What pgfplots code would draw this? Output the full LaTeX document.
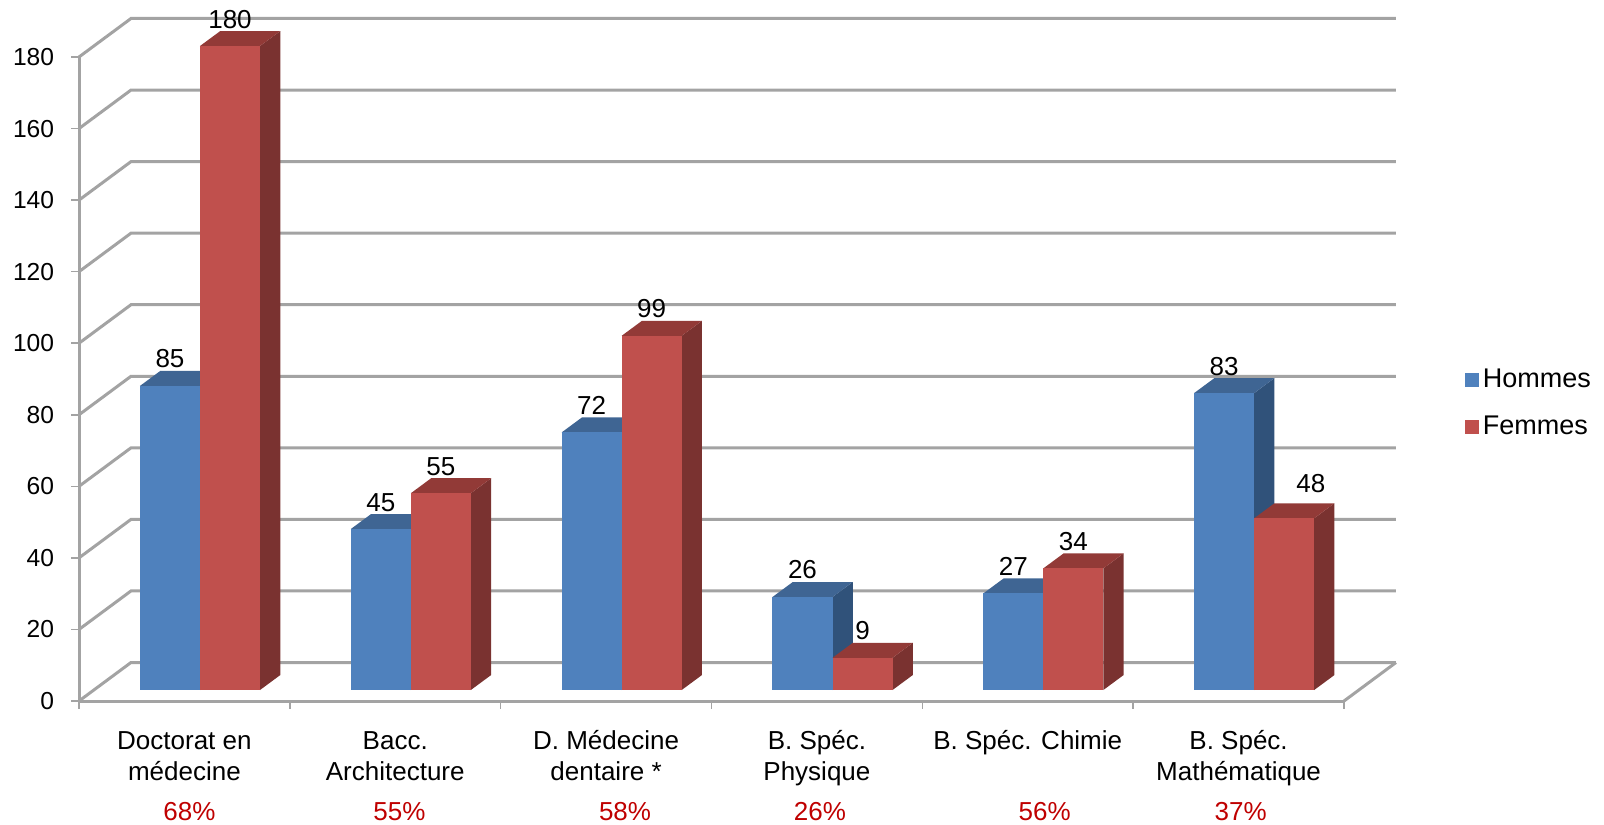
\documentclass[border=0pt]{standalone}
\usepackage{pgfplots}
\pgfplotsset{compat=1.18}
\usepackage{fontspec}
\setmainfont{Liberation Sans}

\definecolor{hfront}{HTML}{4F81BD}
\definecolor{htop}{HTML}{3F6593}
\definecolor{hside}{HTML}{30527A}
\definecolor{ffront}{HTML}{C0504D}
\definecolor{ftop}{HTML}{923A37}
\definecolor{fside}{HTML}{7A3230}
\definecolor{wall}{HTML}{A3A3A3}

% back wall line at value #1, with its diagonal to the front axis
\newcommand{\wallline}[1]{%
  \pgfmathsetmacro\wy{#1+10.76}%
  \addplot[wall, line width=1.5pt, forget plot] coordinates {(-0.5,#1) (-0.2534,\wy) (5.7466,\wy)};
}
% one bar: [label options], left edge #2, value #3, colours #4 front, #5 top, #6 side
\newcommand{\threedbar}[6][]{%
  \pgfmathsetmacro\xb{#2+0.2846}%
  \pgfmathsetmacro\xc{#2+0.3809}%
  \pgfmathsetmacro\xd{#2+0.0963}%
  \pgfmathsetmacro\yb{#3+3.07}%
  \pgfmathsetmacro\yc{#3+7.26}%
  \addplot[fill=#6, draw=none, forget plot] coordinates {(\xb,3.07) (\xc,7.26) (\xc,\yc) (\xb,\yb)} -- cycle;
  \addplot[fill=#5, draw=none, forget plot] coordinates {(#2,\yb) (\xd,\yc) (\xc,\yc) (\xb,\yb)} -- cycle;
  \addplot[fill=#4, draw=none, forget plot] coordinates {(#2,3.07) (\xb,3.07) (\xb,\yb) (#2,\yb)} -- cycle;
  \node[anchor=base, inner sep=0pt, #1] at (axis cs:{#2+0.1423},{#3+8.1}) {#3};
}

\begin{document}
\fontsize{13}{15.75}\selectfont
\begin{tikzpicture}
\path[use as bounding box] (0,0) rectangle (802pt,412pt);
\begin{axis}[
    at={(39.5pt,61.5pt)}, anchor=south west,
    scale only axis, width=632.5pt, height=322pt,
    xmin=-0.5, xmax=5.5, ymin=0, ymax=180,
    clip=false,
    axis lines=left,
    axis line style={-, wall, line width=1.5pt},
    tick align=outside,
    tick style={wall, line width=0.8pt},
    major tick length=3.75pt,
    ytick={0,20,...,180},
    xtick={-0.5,0.5,...,5.5},
    xticklabels={},
    extra x ticks={0,1,2,3,4,5},
    extra x tick style={major tick length=0pt},
    extra x tick labels={{\strut Doctorat en\\médecine},{\strut Bacc.\\Architecture},{\strut D. Médecine\\dentaire *},{\strut B. Spéc.\\Physique},{\strut B. Spéc. Chimie},{\strut B. Spéc.\\Mathématique}},
    x tick label style={align=center, anchor=north, inner sep=0pt, yshift=-13pt, font=\fontsize{13}{15.75}\selectfont},
    y tick label style={inner xsep=8.5pt, font=\fontsize{12.3}{15}\selectfont},
    /pgf/number format/assume math mode=true,
    legend image code/.code={\fill[#1] (0pt,-3.5pt) rectangle (7pt,3.5pt);},
    legend style={draw=none, fill=none, at={(axis cs:6.071,83.1)}, anchor=west,
        font=\fontsize{13.5}{15.75}\selectfont, row sep=8pt, inner sep=0pt},
    legend cell align=left,
]
\wallline{0}\wallline{20}\wallline{40}\wallline{60}\wallline{80}
\wallline{100}\wallline{120}\wallline{140}\wallline{160}\wallline{180}
\addplot[wall, line width=1.5pt, forget plot] coordinates {(5.5,0) (5.7466,10.76)};

\addlegendimage{fill=hfront, draw=none}
\addlegendimage{fill=ffront, draw=none}

\threedbar{-0.2107}{85}{hfront}{htop}{hside}
\threedbar{0.0739}{180}{ffront}{ftop}{fside}
\threedbar{0.7893}{45}{hfront}{htop}{hside}
\threedbar{1.0739}{55}{ffront}{ftop}{fside}
\threedbar{1.7893}{72}{hfront}{htop}{hside}
\threedbar{2.0739}{99}{ffront}{ftop}{fside}
\threedbar{2.7893}{26}{hfront}{htop}{hside}
\threedbar{3.0739}{9}{ffront}{ftop}{fside}
\threedbar{3.7893}{27}{hfront}{htop}{hside}
\threedbar{4.0739}{34}{ffront}{ftop}{fside}
\threedbar{4.7893}{83}{hfront}{htop}{hside}
\threedbar[xshift=13.3pt, yshift=4.1pt]{5.0739}{48}{ffront}{ftop}{fside}

\legend{Hommes,Femmes}

% taux sous chaque filiere
\node[text=red!75!black, anchor=base, inner sep=0pt] at (axis cs:0.024,-33.5) {68\%};
\node[text=red!75!black, anchor=base, inner sep=0pt] at (axis cs:1.02,-33.5) {55\%};
\node[text=red!75!black, anchor=base, inner sep=0pt] at (axis cs:2.09,-33.5) {58\%};
\node[text=red!75!black, anchor=base, inner sep=0pt] at (axis cs:3.014,-33.5) {26\%};
\node[text=red!75!black, anchor=base, inner sep=0pt] at (axis cs:4.08,-33.5) {56\%};
\node[text=red!75!black, anchor=base, inner sep=0pt] at (axis cs:5.01,-33.5) {37\%};
\end{axis}
\end{tikzpicture}
\end{document}
